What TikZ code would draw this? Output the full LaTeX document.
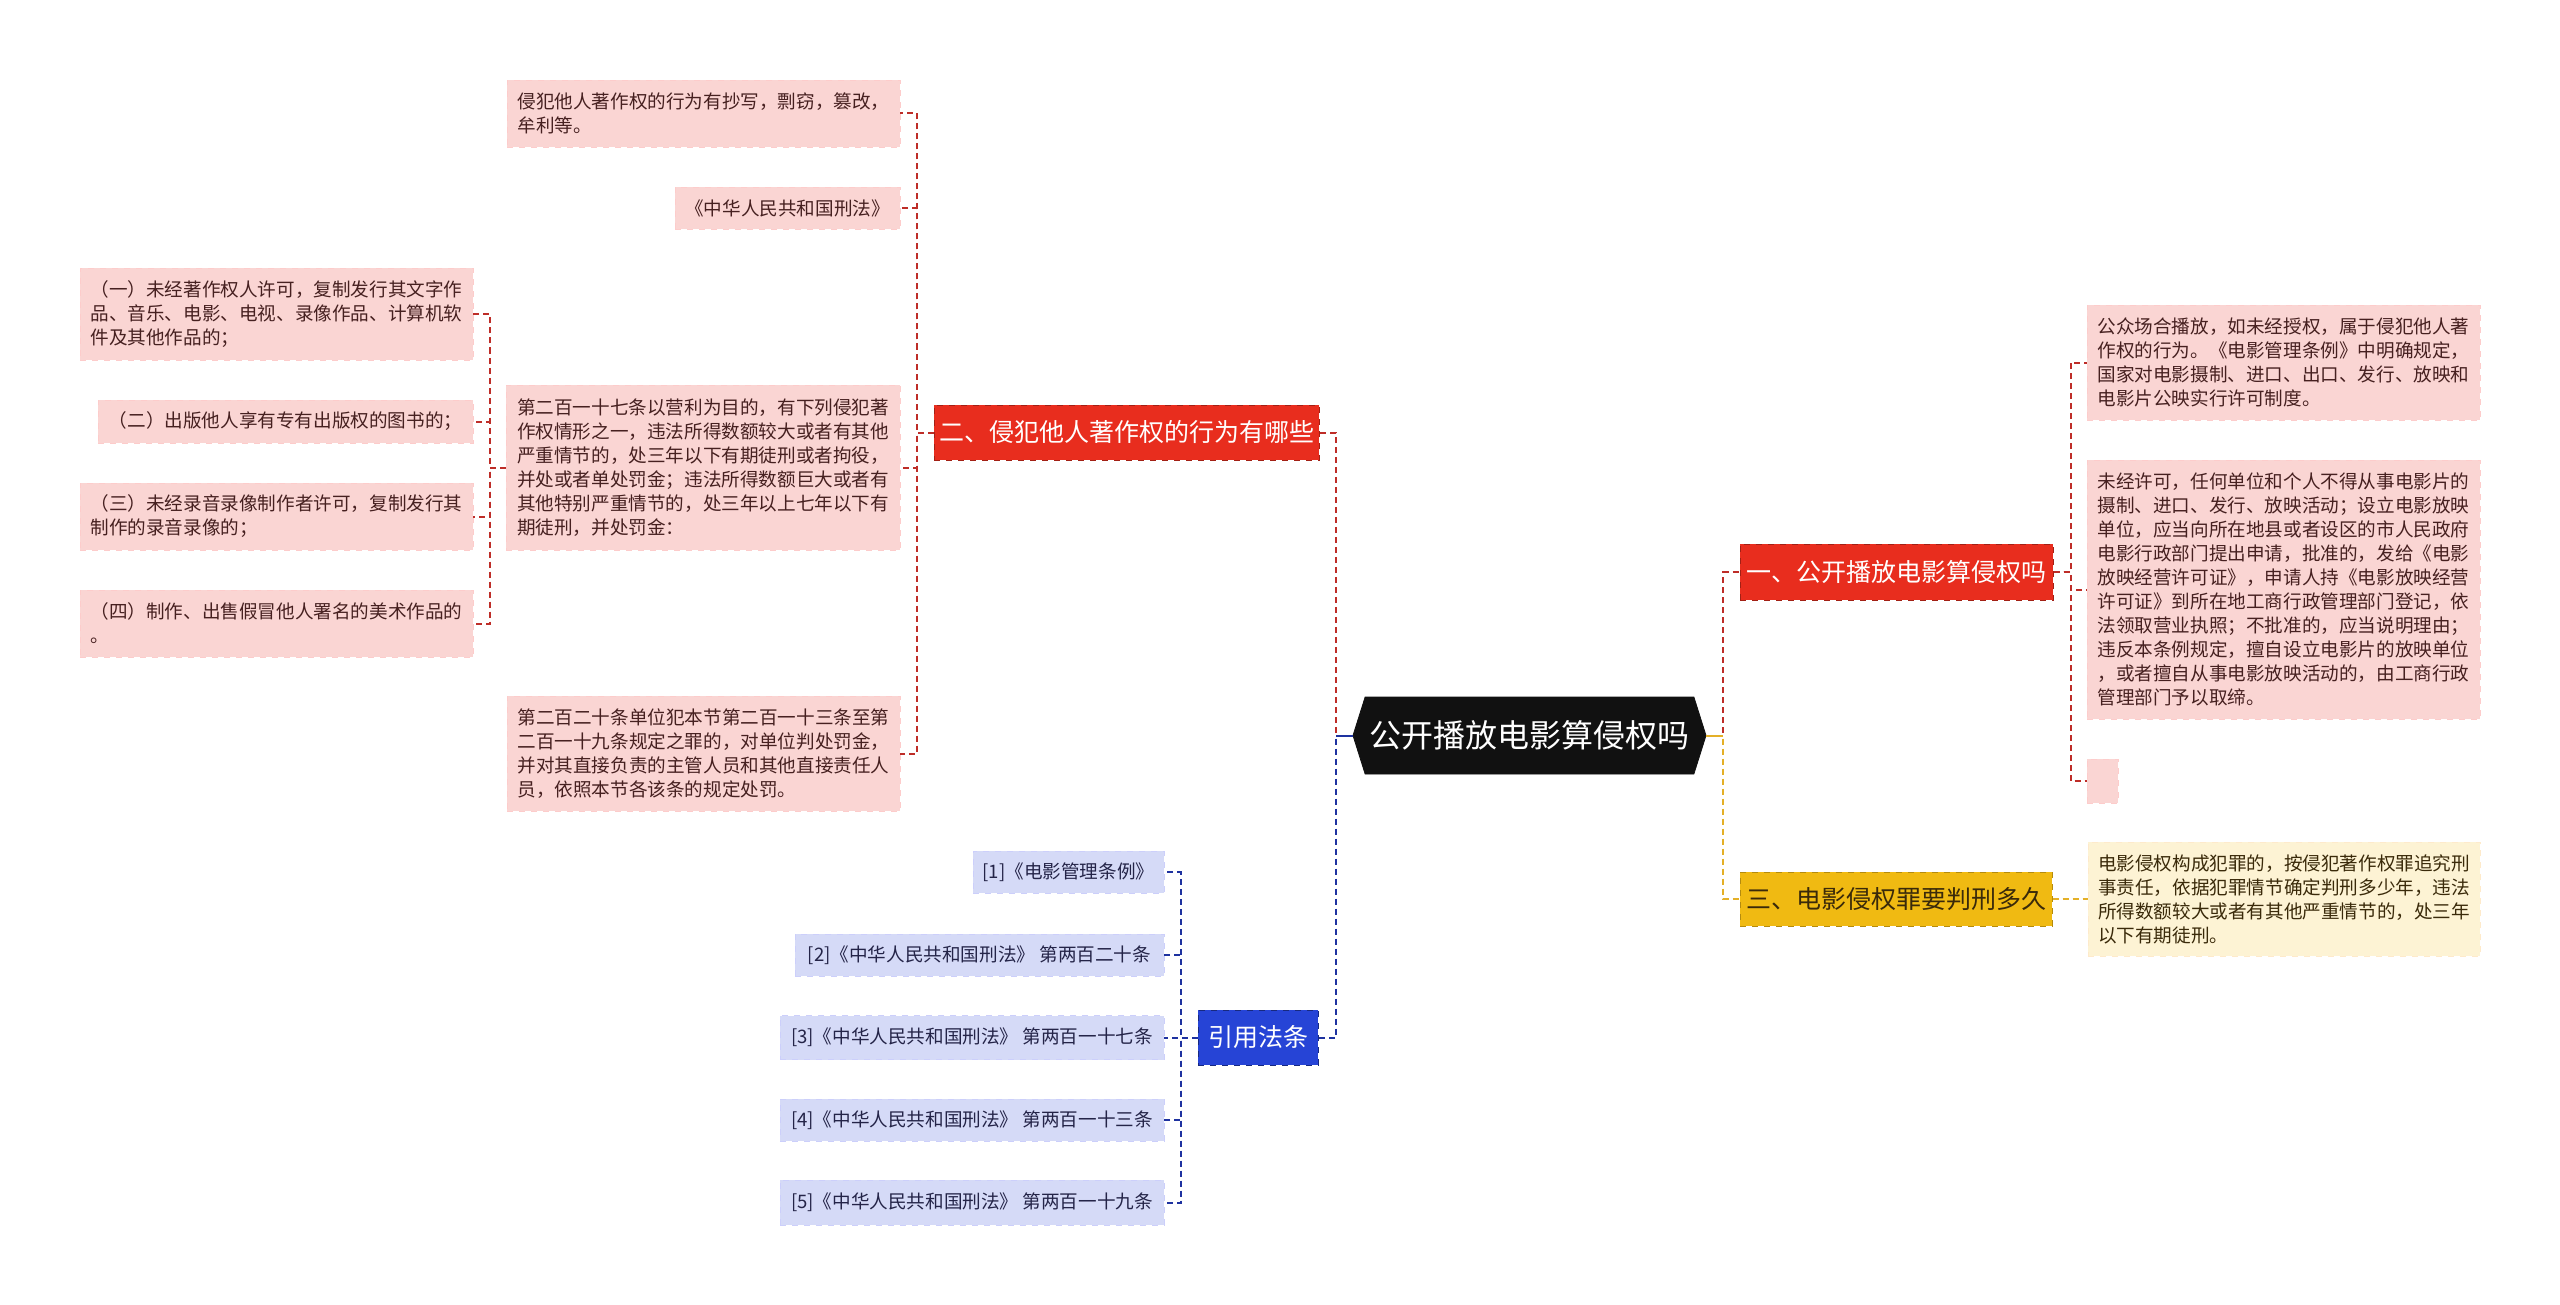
\documentclass[tikz,border=0pt]{standalone}
\usepackage{fontspec}
\setmainfont{Noto Sans CJK SC}
\usepackage{xcolor}
\usepackage{tikz}
\usetikzlibrary{shapes.symbols}
\definecolor{rootblack}{RGB}{17, 17, 17}
\definecolor{branchred}{RGB}{232, 45, 30}
\definecolor{branchyellow}{RGB}{240, 186, 18}
\definecolor{branchblue}{RGB}{38, 68, 214}
\definecolor{leafpink}{RGB}{250, 213, 211}
\definecolor{leafblue}{RGB}{213, 218, 247}
\definecolor{leafyellow}{RGB}{253, 243, 212}
\definecolor{textpink}{RGB}{70, 32, 32}
\definecolor{textblue}{RGB}{36, 36, 72}
\definecolor{textyellow}{RGB}{58, 42, 10}
\definecolor{linkred}{RGB}{190, 45, 40}
\definecolor{linkblue}{RGB}{30, 50, 160}
\definecolor{linkyellow}{RGB}{228, 176, 40}

\begin{document}
\begin{tikzpicture}[
    x=0.5pt, y=-0.5pt,
    root/.style={signal, signal to=west and east, signal pointer angle=145, fill=rootblack, draw=rootblack, text=white, inner sep=0pt, minimum width=176.5pt, minimum height=38.5pt, font=\fontsize{16}{19}\selectfont},
    branch/.style={rectangle, inner sep=0pt, dashed, line width=0.5pt, font=\fontsize{12.5}{15}\selectfont},
    leaf/.style={rectangle, inner sep=0pt, align=left, dashed, line width=0.4pt, font=\fontsize{9.3}{12}\selectfont},
    pinkleaf/.style={leaf, fill=leafpink, draw=leafpink!80!red!60!white, text=textpink},
    blueleaf/.style={leaf, fill=leafblue, draw=leafblue!80!blue!60!white, text=textblue},
    yellowleaf/.style={leaf, fill=leafyellow, draw=leafyellow!85!orange!70!white, text=textyellow},
    link/.style={line width=1pt, dash pattern=on 3pt off 2pt},
    redlink/.style={link, draw=linkred},
    bluelink/.style={link, draw=linkblue},
    yellowlink/.style={link, draw=linkyellow}
]
\fill[white] (0,0) rectangle (2560,1305);
\useasboundingbox (0,0) rectangle (2560,1305);

% root
\node[root] (root) at (1529.5,735.5) {公开播放电影算侵权吗};

% main branches
\node[branch, fill=branchred, draw=branchred!70!black, text=white, minimum width=192.5pt, minimum height=27.5pt] (infringe) at (1126.5,432.5) {二、侵犯他人著作权的行为有哪些};
\node[branch, fill=branchred, draw=branchred!70!black, text=white, minimum width=156.5pt, minimum height=28pt] (public) at (1896.5,572) {一、公开播放电影算侵权吗};
\node[branch, fill=branchyellow, draw=branchyellow!75!black, text=textyellow, minimum width=156pt, minimum height=27pt] (penalty) at (1896,899) {三、电影侵权罪要判刑多久};
\node[branch, fill=branchblue, draw=branchblue!60!black, text=white, minimum width=60pt, minimum height=27.5pt] (cite) at (1258,1037.5) {引用法条};

% what counts as infringement
\node[pinkleaf, minimum width=196.5pt, minimum height=33.5pt] (acts) at (703.5,113.5) {侵犯他人著作权的行为有抄写，剽窃，篡改，\\牟利等。};
\node[pinkleaf, minimum width=112.5pt, minimum height=21pt] (law) at (787.5,208) {《中华人民共和国刑法》};
\node[pinkleaf, minimum width=197pt, minimum height=82.5pt] (art217) at (703,467.5) {第二百一十七条以营利为目的，有下列侵犯著\\作权情形之一，违法所得数额较大或者有其他\\严重情节的，处三年以下有期徒刑或者拘役，\\并处或者单处罚金；违法所得数额巨大或者有\\其他特别严重情节的，处三年以上七年以下有\\期徒刑，并处罚金：};
\node[pinkleaf, minimum width=196.5pt, minimum height=57.5pt] (art220) at (703.5,753.5) {第二百二十条单位犯本节第二百一十三条至第\\二百一十九条规定之罪的，对单位判处罚金，\\并对其直接负责的主管人员和其他直接责任人\\员，依照本节各该条的规定处罚。};

% items of art. 217
\node[pinkleaf, minimum width=196.5pt, minimum height=46pt] (item1) at (276.5,314) {（一）未经著作权人许可，复制发行其文字作\\品、音乐、电影、电视、录像作品、计算机软\\件及其他作品的；};
\node[pinkleaf, minimum width=187.5pt, minimum height=21.5pt] (item2) at (285.5,421.5) {（二）出版他人享有专有出版权的图书的；};
\node[pinkleaf, minimum width=196.5pt, minimum height=33.5pt] (item3) at (276.5,516.5) {（三）未经录音录像制作者许可，复制发行其\\制作的录音录像的；};
\node[pinkleaf, minimum width=196.5pt, minimum height=33.5pt] (item4) at (276.5,623.5) {（四）制作、出售假冒他人署名的美术作品的\\。};

% public screening
\node[pinkleaf, minimum width=196.5pt, minimum height=57.5pt] (screen) at (2283.5,362.5) {公众场合播放，如未经授权，属于侵犯他人著\\作权的行为。《电影管理条例》中明确规定，\\国家对电影摄制、进口、出口、发行、放映和\\电影片公映实行许可制度。};
\node[pinkleaf, minimum width=196.5pt, minimum height=129.5pt] (licence) at (2283.5,589.5) {未经许可，任何单位和个人不得从事电影片的\\摄制、进口、发行、放映活动；设立电影放映\\单位，应当向所在地县或者设区的市人民政府\\电影行政部门提出申请，批准的，发给《电影\\放映经营许可证》，申请人持《电影放映经营\\许可证》到所在地工商行政管理部门登记，依\\法领取营业执照；不批准的，应当说明理由；\\违反本条例规定，擅自设立电影片的放映单位\\，或者擅自从事电影放映活动的，由工商行政\\管理部门予以取缔。};
\node[pinkleaf, minimum width=15.5pt, minimum height=22pt] (blank) at (2102.5,781) {};

% sentence
\node[yellowleaf, minimum width=196pt, minimum height=57pt] (years) at (2284,899) {电影侵权构成犯罪的，按侵犯著作权罪追究刑\\事责任，依据犯罪情节确定判刑多少年，违法\\所得数额较大或者有其他严重情节的，处三年\\以下有期徒刑。};

% references
\node[blueleaf, minimum width=95.5pt, minimum height=21pt] (ref1) at (1068.5,872) {[1]《电影管理条例》};
\node[blueleaf, minimum width=184.5pt, minimum height=21pt] (ref2) at (979.5,955) {[2]《中华人民共和国刑法》 第两百二十条};
\node[blueleaf, minimum width=192pt, minimum height=22pt] (ref3) at (972,1037.5) {[3]《中华人民共和国刑法》 第两百一十七条};
\node[blueleaf, minimum width=192pt, minimum height=21pt] (ref4) at (972,1120) {[4]《中华人民共和国刑法》 第两百一十三条};
\node[blueleaf, minimum width=192pt, minimum height=22.5pt] (ref5) at (972,1202.5) {[5]《中华人民共和国刑法》 第两百一十九条};

% connectors
\draw[redlink] (root.west) -- ++(-17,0) |- (infringe.east);
\draw[bluelink] (root.west) -- ++(-17,0) |- (cite.east);
\draw[redlink] (root.east) -- ++(17,0) |- (public.west);
\draw[yellowlink] (root.east) -- ++(17,0) |- (penalty.west);
\draw[bluelink, solid] (root.west) -- ++(-17,0);
\draw[yellowlink, solid] (root.east) -- ++(17,0);
\foreach \leafname in {acts, law, art217, art220}
    \draw[redlink] (infringe.west) -- ++(-17,0) |- (\leafname.east);
\foreach \leafname in {item1, item2, item3, item4}
    \draw[redlink] (art217.west) -- ++(-16,0) |- (\leafname.east);
\foreach \leafname in {screen, licence, blank}
    \draw[redlink] (public.east) -- ++(17,0) |- (\leafname.west);
\draw[yellowlink] (penalty.east) -- (years.west);
\foreach \leafname in {ref1, ref2, ref3, ref4, ref5}
    \draw[bluelink] (cite.west) -- ++(-17,0) |- (\leafname.east);
\end{tikzpicture}
\end{document}
